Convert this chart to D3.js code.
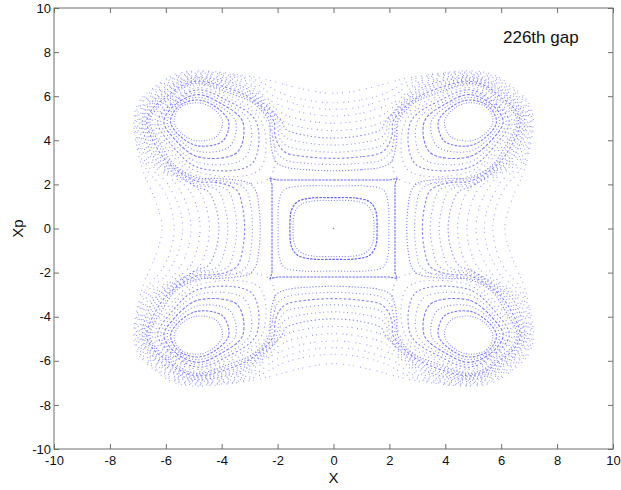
<!DOCTYPE html>
<html>
<head>
<meta charset="utf-8">
<script src="https://cdn.jsdelivr.net/npm/d3@7"></script>
<style>
  body { margin: 0; background: #fff; }
  svg { display: block; }
  text { font-family: "Liberation Sans", Arial, sans-serif; fill: #111; }
</style>
</head>
<body>
<svg id="chart" width="621" height="490"></svg>
<script>
// ---- axis settings ---------------------------------------------------
const xTicks = [-10, -8, -6, -4, -2, 0, 2, 4, 6, 8, 10];
const yTicks = [-10, -8, -6, -4, -2, 0, 2, 4, 6, 8, 10];
const xLabel = "X";
const yLabel = "Xp";
const annotation = "226th gap";

// ---- phase-space orbits (X, Xp), first quadrant; the section is mirror
// symmetric in X, in Xp and under X <-> Xp, so the rest is reflected ----

// centre of the upper-right resonance island
const islandCentre = [4.85, 4.85];
// angles (deg) at which the island orbit radii are listed
const islandAngles = [0, 45, 90, 135, 180, 225, 270, 315];
// island orbits, innermost (edge of the empty core) to separatrix
const islandR0 = [0.85, 0.90, 0.85, 0.80, 0.88, 0.95, 0.88, 0.80];
const islandR1 = [0.98, 0.98, 0.98, 0.92, 1.10, 1.25, 1.10, 0.92];
const islandR2 = [1.10, 1.05, 1.10, 1.04, 1.35, 1.60, 1.35, 1.04];
const islandR3 = [1.22, 1.12, 1.22, 1.16, 1.60, 1.98, 1.60, 1.16];
const islandR4 = [1.33, 1.18, 1.33, 1.28, 1.85, 2.35, 1.85, 1.28];
const islandR5 = [1.44, 1.24, 1.44, 1.40, 2.08, 2.72, 2.08, 1.40];
const islandR6 = [1.54, 1.30, 1.54, 1.52, 2.28, 3.10, 2.28, 1.52];
const islandR7 = [1.64, 1.36, 1.64, 1.64, 2.47, 3.62, 2.47, 1.64];

// large orbits encircling everything: octant arc from the Xp axis to X = Xp
const outer0  = [[0,2.62],[1.0,2.67],[1.7,2.78],[2.05,3.0],[2.2,3.5],[2.27,4.2],[2.3,4.85],[2.86,5.67],[3.61,6.09],[4.85,6.57],[5.46,6.31],[5.87,5.87]];
const outer1  = [[0,2.90],[1.0,2.96],[1.7,3.1],[2.0,3.4],[2.14,3.9],[2.2,4.4],[2.22,4.85],[2.81,5.70],[3.54,6.16],[4.85,6.62],[5.48,6.37],[5.92,5.92]];
const outer2  = [[0,3.18],[1.0,3.26],[1.7,3.44],[1.97,3.8],[2.1,4.3],[2.13,4.85],[2.75,5.72],[3.47,6.23],[4.85,6.68],[5.50,6.43],[5.97,5.97]];
const outer3  = [[0,3.46],[1.0,3.56],[1.7,3.76],[1.94,4.15],[2.04,4.85],[2.70,5.74],[3.40,6.30],[4.85,6.73],[5.53,6.49],[6.02,6.02]];
const outer4  = [[0,3.78],[1.0,3.89],[1.7,4.12],[1.9,4.45],[1.95,4.85],[2.64,5.77],[3.33,6.37],[4.85,6.78],[5.55,6.55],[6.07,6.07]];
const outer5  = [[0,4.10],[1.0,4.22],[1.7,4.5],[1.86,4.85],[2.59,5.79],[3.26,6.44],[4.85,6.84],[5.58,6.61],[6.12,6.12]];
const outer6  = [[0,4.44],[1.0,4.56],[1.77,4.85],[2.52,5.82],[3.19,6.51],[4.85,6.89],[5.60,6.67],[6.17,6.17]];
const outer7  = [[0,4.77],[1.0,4.90],[1.78,5.18],[2.45,5.85],[3.12,6.58],[4.85,6.94],[5.63,6.73],[6.22,6.22]];
const outer8  = [[0,5.10],[1.0,5.23],[1.78,5.52],[2.36,5.88],[3.05,6.65],[4.85,7.00],[5.65,6.79],[6.27,6.27]];
const outer9  = [[0,5.40],[1.0,5.53],[1.78,5.83],[2.12,5.98],[2.98,6.72],[4.85,7.05],[5.68,6.85],[6.32,6.32]];
const outer10 = [[0,5.70],[1.0,5.83],[1.80,6.11],[2.91,6.79],[4.85,7.10],[5.70,6.91],[6.37,6.37]];
const outer11 = [[0,6.13],[1.22,6.36],[2.3,6.72],[2.83,6.87],[4.85,7.15],[5.73,6.97],[6.41,6.41]];

// orbits round the central fixed point: quarter arcs from the Xp axis to the X axis
const core3 = [[0,1.27],[0.72,1.25],[1.15,1.10],[1.38,0.75],[1.45,0]];
const core2 = [[0,1.40],[0.80,1.38],[1.28,1.22],[1.50,0.84],[1.56,0]];
const core1 = [[0,1.93],[1.20,1.92],[1.78,1.75],[1.95,1.20],[1.98,0]];
// separatrix square through the four hyperbolic points
const separatrix = [[0,2.2],[2.0,2.2],[2.27,2.27],[2.2,2.0],[2.2,0]];

// ---- layout -----------------------------------------------------------
const svg = d3.select("#chart");
const x = d3.scaleLinear().domain([-10, 10]).range([54, 613]);
const y = d3.scaleLinear().domain([-10, 10]).range([449, 8]);

const dotColor = "#3030ff";

// reflect an octant arc into a closed loop
function loopFromOctant(oct) {
  const q1 = oct.concat(oct.slice(0, -1).reverse().map(([a, b]) => [b, a]));
  return loopFromQuarter(q1);
}
// reflect a first-quadrant arc (Xp axis -> X axis) into a closed loop
function loopFromQuarter(q1) {
  const q4 = q1.slice().reverse().map(([a, b]) => [a, -b]).slice(1);
  const right = q1.concat(q4);                       // (0,a) .. (a,0) .. (0,-a)
  const left = right.map(([a, b]) => [-a, b]).reverse().slice(1, -1);
  return right.concat(left);
}
// island orbit points for the island in quadrant (sx, sy)
function islandLoop(radii, sx, sy) {
  return radii.map((r, i) => {
    const t = islandAngles[i] * Math.PI / 180;
    return [sx * (islandCentre[0] + r * Math.cos(t)), sy * (islandCentre[1] + r * Math.sin(t))];
  });
}

const smooth = d3.line().x(d => x(d[0])).y(d => y(d[1])).curve(d3.curveCatmullRomClosed.alpha(0.5));
const straight = d3.line().x(d => x(d[0])).y(d => y(d[1])).curve(d3.curveLinearClosed);

const orbits = svg.append("g").attr("fill", "none").attr("stroke", dotColor);

function drawOrbit(pts, gen, dash, width, opacity, offset) {
  orbits.append("path")
    .attr("d", gen(pts))
    .attr("stroke-width", width)
    .attr("stroke-dasharray", dash)
    .attr("stroke-dashoffset", offset || 0)
    .attr("stroke-opacity", opacity);
}

// large encircling orbits: regular near the centre, scattered farther out
const outerOrbits = [outer0, outer1, outer2, outer3, outer4, outer5, outer6, outer7, outer8, outer9, outer10, outer11];
const outerDash = [
  "1.2 1.8", "1 2.6", "2.5 2", "1 3", "1 3.4 1 2.6", "1.4 2.4",
  "1 3.2 1 4.6", "1 4 1 2.8 1 5.4", "1 3.3 1 6", "1 4.6 1 3.1 1 5.8", "1 5.2 1 3.6", "1 4.4 1 6.2 1 3.4"];
const outerOpacity = [0.6, 0.55, 0.6, 0.55, 0.55, 0.55, 0.5, 0.5, 0.48, 0.45, 0.45, 0.45];
outerOrbits.forEach((o, i) => {
  drawOrbit(loopFromOctant(o), smooth, outerDash[i], 1.1, outerOpacity[i], i * 1.7);
});

// island orbits in all four quadrants
const islandOrbits = [islandR0, islandR1, islandR2, islandR3, islandR4, islandR5, islandR6, islandR7];
const islandDash = ["1 1.6", "2.5 1.4", "1 2.2", "3 1.6", "1 2.4 1 3.6", "2 2.2", "1 3 1 4.2", "1 3.4 1 5"];
const islandOpacity = [0.55, 0.65, 0.6, 0.65, 0.55, 0.6, 0.5, 0.5];
[[1, 1], [-1, 1], [1, -1], [-1, -1]].forEach(([sx, sy]) => {
  islandOrbits.forEach((r, i) => {
    drawOrbit(islandLoop(r, sx, sy), smooth, islandDash[i], 1.1, islandOpacity[i], i * 1.3);
  });
});

// central orbits and the separatrix square
drawOrbit(loopFromQuarter(separatrix), straight, "2.5 1", 1.1, 0.7);
drawOrbit(loopFromQuarter(core1), smooth, "1 2", 1.1, 0.6);
drawOrbit(loopFromQuarter(core2), smooth, "2.5 1.2", 1.2, 0.75);
drawOrbit(loopFromQuarter(core3), smooth, "1 1.8", 1.1, 0.6);
// the central fixed point
svg.append("rect").attr("x", x(0) - 0.6).attr("y", y(0) - 0.6)
  .attr("width", 1.2).attr("height", 1.2).attr("fill", dotColor).attr("opacity", 0.7);

// ---- axes (box with inward ticks) ------------------------------------
const axisColor = "#6f6f6f";
const tickText = d => String(d);
function styleAxis(g) {
  g.select(".domain").remove();
  g.selectAll(".tick line").attr("stroke", axisColor);
  g.selectAll(".tick text").attr("fill", "#111").style("font-size", "13px")
    .style("font-family", '"Liberation Sans", Arial, sans-serif');
}
svg.append("g").attr("transform", `translate(0,${y(-10)})`)
  .call(d3.axisBottom(x).tickValues(xTicks).tickSize(-5).tickPadding(7).tickFormat(tickText))
  .call(styleAxis);
svg.append("g").attr("transform", `translate(0,${y(10)})`)
  .call(d3.axisTop(x).tickValues(xTicks).tickSize(-5).tickFormat(""))
  .call(styleAxis);
svg.append("g").attr("transform", `translate(${x(-10)},0)`)
  .call(d3.axisLeft(y).tickValues(yTicks).tickSize(-5).tickPadding(3).tickFormat(tickText))
  .call(styleAxis);
svg.append("g").attr("transform", `translate(${x(10)},0)`)
  .call(d3.axisRight(y).tickValues(yTicks).tickSize(-5).tickFormat(""))
  .call(styleAxis);
svg.append("rect")
  .attr("x", x(-10)).attr("y", y(10))
  .attr("width", x(10) - x(-10)).attr("height", y(-10) - y(10))
  .attr("fill", "none").attr("stroke", axisColor).attr("stroke-width", 1);

// ---- texts -------------------------------------------------------------
svg.append("text").attr("x", x(0)).attr("y", 483).attr("text-anchor", "middle")
  .style("font-size", "15px").text(xLabel);
svg.append("text").attr("transform", `translate(23,${y(0)}) rotate(-90)`).attr("text-anchor", "middle")
  .style("font-size", "15px").text(yLabel);
svg.append("text").attr("x", 503).attr("y", 43).style("font-size", "17px").text(annotation);
</script>
</body>
</html>
